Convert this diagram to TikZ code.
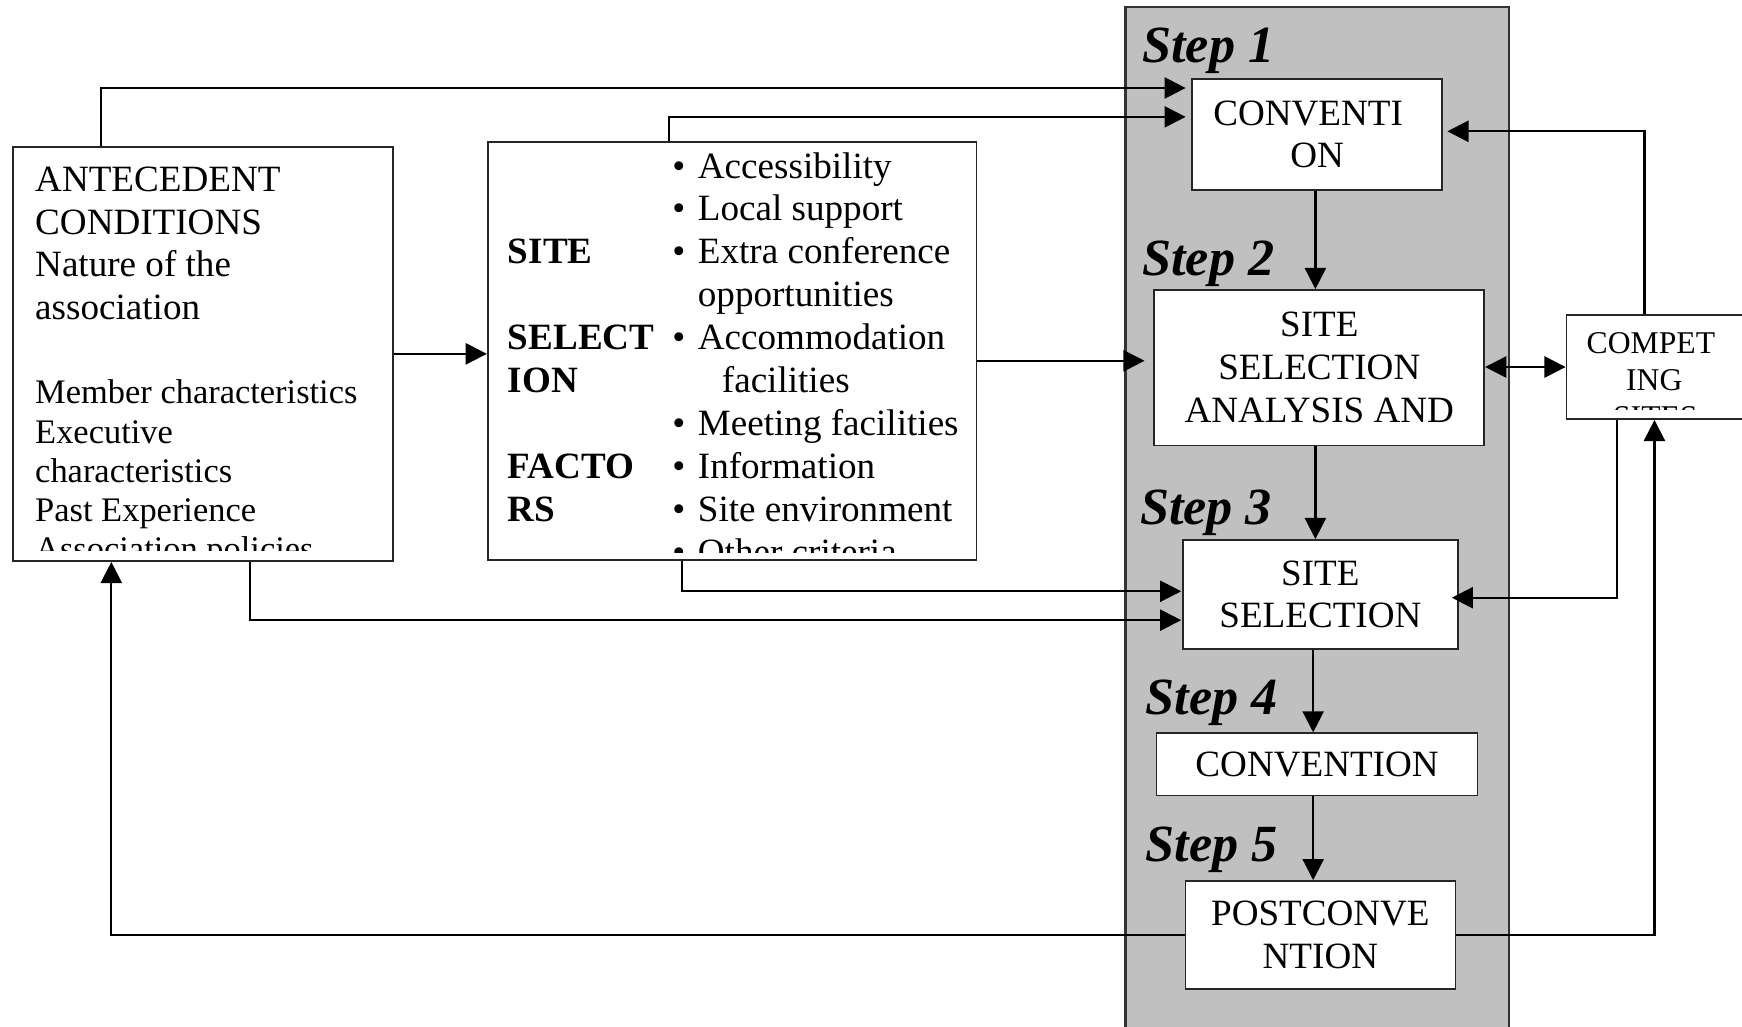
\documentclass[tikz,border=0pt]{standalone}
\usepackage{fontspec}
\setmainfont{Liberation Serif}
\usetikzlibrary{arrows.meta,calc}
\newcommand{\fbig}{\fontsize{33.4pt}{38.6pt}\selectfont}
\newcommand{\fmid}{\fontsize{31pt}{35.2pt}\selectfont}
\newcommand{\fcomp}{\fontsize{28.5pt}{33pt}\selectfont}
\newcommand{\fstep}{\fontsize{47pt}{50pt}\selectfont\bfseries\itshape}
\definecolor{panelgray}{HTML}{C0C0C0}
\tikzset{
  x=1pt, y=-1pt,
  boxnode/.style={draw=black!85, line width=1.6pt, fill=white, inner sep=0pt, align=center, font=\fbig},
  txt/.style={inner sep=0pt, anchor=base west, font=\fbig},
  txtmid/.style={inner sep=0pt, anchor=base west, font=\fmid},
  steplabel/.style={inner sep=0pt, anchor=base west, font=\fstep},
  conn/.style={line width=2pt, draw=black},
  arr/.style={conn, -{Triangle[length=19pt,width=19pt]}},
  dblarr/.style={conn, {Triangle[length=19pt,width=19pt]}-{Triangle[length=19pt,width=19pt]}},
}
\begin{document}
\begin{tikzpicture}
\useasboundingbox (0,0) rectangle (1568,924);
% gray panel
\draw[fill=panelgray, draw=black!80, line width=2pt] (1013,6) rectangle (1358,945);

% left box
\node[boxnode, minimum width=342pt, minimum height=373pt] (ante) at (183,318.5) {};
\begin{scope}
\clip (12,132) rectangle (354,495.6);
\foreach \t/\y [count=\i] in {ANTECEDENT/172.5, CONDITIONS/210.8, Nature of the/249.2, association/287.6}
  \node[txt] (antea\i) at (31.5,\y) {\t};
\foreach \t/\y [count=\i] in {Member characteristics/363.6, Executive/399, characteristics/434, Past Experience/469.5, Association policies/504.5}
  \node[txtmid] (anteb\i) at (31.5,\y) {\t};
\end{scope}

% middle box
\node[boxnode, minimum width=440pt, minimum height=376.5pt] (mid) at (659,315.75) {};
\begin{scope}
\clip (439,127.5) rectangle (879,497.5);
\foreach \t/\r in {SITE/3, SELECT/5, ION/6, FACTO/8, RS/9}
  \node[txt, font=\fbig\bfseries] (lab\r) at (457,{160.3+38.6*(\r-1)}) {\t};
\foreach \t/\r in {Accessibility/1, Local support/2, Extra conference/3, opportunities/4, Accommodation/5, Meeting facilities/7, Information/8, Site environment/9, Other criteria/10}
  \node[txt] (item\r) at (628,{160.3+38.6*(\r-1)}) {\t};
\node[txt] (item6) at (649.6,{160.3+38.6*5}) {facilities};
\foreach \r in {1,2,3,5,7,8,9,10}
  \node[inner sep=0pt, anchor=base, font=\fbig] (bul\r) at (611,{160.3+38.6*(\r-1)}) {\textbullet};
\end{scope}

% step boxes
\node[boxnode, minimum width=225pt, minimum height=100pt] (B1) at (1185.5,121) {CONVENTI\hspace*{16pt}\\ON};
\node[boxnode, minimum width=297pt, minimum height=140pt] (B2) at (1187.5,331) {SITE\\SELECTION\\ANALYSIS AND};
\node[boxnode, minimum width=247pt, minimum height=98pt] (B3) at (1188.5,535) {SITE\\SELECTION};
\node[boxnode, minimum width=289pt, minimum height=56pt] (B4) at (1185.5,688) {CONVENTION};
\node[boxnode, minimum width=243pt, minimum height=97pt] (B5) at (1188.5,841.5) {POSTCONVE\\NTION};

% step labels
\node[steplabel] (s1) at (1028,56) {Step 1};
\node[steplabel] (s2) at (1028,248) {Step 2};
\node[steplabel] (s3) at (1026,472) {Step 3};
\node[steplabel] (s4) at (1031,643) {Step 4};
\node[steplabel] (s5) at (1031,775) {Step 5};

% competing sites
\node[boxnode, minimum width=180pt, minimum height=93.7pt] (comp) at (1500,330.35) {};
\begin{scope}
\clip (1410,283.5) rectangle (1600,368.5);
\node[inner sep=0pt, anchor=base, font=\fcomp] (compa) at (1486,318.6) {COMPET};
\node[inner sep=0pt, anchor=base, font=\fcomp] (compb) at (1489,351.6) {ING};
\node[inner sep=0pt, anchor=base, font=\fcomp] (compc) at (1490,384.6) {SITES};
\end{scope}

\coordinate (spine) at (1184,0);
\coordinate (spinetwo) at (1182,0);

% connectors
\draw[arr, shorten >=5pt] ([xshift=80pt]ante.north west) |- ([yshift=-9pt]B1.north west);
\draw[arr, shorten >=5pt] ([xshift=164pt]mid.north west) |- ([yshift=-35pt]B1.north west);
\draw[arr] (ante.east) -- (ante.east -| mid.west);
\draw[arr, shorten >=8pt] ([yshift=-9pt]mid.east) -- ([yshift=-9pt]mid.east -| B2.west);
\draw[arr] (B1.south -| spine) -- (B2.north -| spine);
\draw[arr] (B2.south -| spine) -- (B3.north -| spine);
\draw[arr] (B3.south -| spinetwo) -- (B4.north -| spinetwo);
\draw[arr] (B4.south -| spinetwo) -- (B5.north -| spinetwo);
\draw[dblarr] (comp.west -| B2.east) -- (comp.west);
\draw[arr, shorten >=4pt] ([xshift=71pt]comp.north west) |- ([yshift=-48pt]B1.north east);
\draw[arr, shorten >=-6pt] ([xshift=46pt]comp.south west) |- ([yshift=-3pt]B3.east);
\draw[arr] (B5.east) -| ([xshift=80pt]comp.south west);
\draw[arr, shorten >=1pt] ([xshift=176pt]mid.south west) |- ([yshift=-47pt]B3.north west);
\draw[arr, shorten >=1pt] ([xshift=214pt]ante.south west) |- ([yshift=-73pt]B3.north west);
\draw[arr] (B5.west) -| ([xshift=89pt]ante.south west);
\end{tikzpicture}
\end{document}
